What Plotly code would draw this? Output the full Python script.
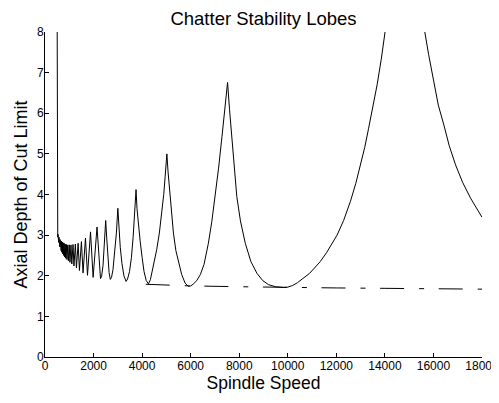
import plotly.graph_objects as go

# high-order lobes near the low-speed end: cusp (peak) and valley of each lobe
dense_peak_rpm = [500, 517, 536, 556, 577, 600, 625, 652, 682, 714, 750, 789,
                  833, 882, 938, 1000, 1071, 1154, 1250, 1364, 1500, 1667,
                  1875, 2143]
dense_peak_depth = [3.12, 3.06, 3.02, 2.98, 2.95, 2.92, 2.89, 2.87, 2.85, 2.83,
                    2.81, 2.80, 2.78, 2.77, 2.76, 2.76, 2.76, 2.77, 2.78, 2.80,
                    2.84, 2.93, 3.08, 3.20]
dense_valley_rpm = [507, 525, 544, 564, 586, 610, 636, 664, 695, 728, 766, 807,
                    853, 904, 963, 1028, 1104, 1192, 1295, 1418, 1567, 1750,
                    1982, 2286]
dense_valley_depth = [3.02, 2.95, 2.88, 2.82, 2.76, 2.71, 2.66, 2.62, 2.58, 2.54,
                      2.50, 2.46, 2.43, 2.40, 2.37, 2.33, 2.29, 2.24, 2.19, 2.13,
                      2.07, 2.01, 1.96, 1.93]

# low-order lobes, traced point by point
major_rpm = [2330, 2390, 2450, 2500, 2540, 2590, 2640, 2690,
             2740, 2800, 2870, 2940, 3000, 3040, 3100, 3170, 3250, 3340,
             3400, 3480, 3560, 3630, 3690, 3750, 3790, 3850, 3920, 4000, 4080,
             4170, 4260,
             4340, 4450, 4600, 4710, 4810, 4890, 4950, 5020, 5070, 5130, 5210,
             5290, 5390, 5500, 5630, 5770, 5900,
             6000, 6100, 6250, 6400, 6550, 6730, 6870, 7010, 7150, 7290, 7410,
             7520, 7600, 7700, 7800, 7900, 8050, 8250, 8480, 8730, 8970, 9210,
             9500, 9830,
             10000, 10200, 10400, 10650, 10900, 11100, 11340, 11600, 11800,
             12030, 12300, 12580, 12800, 12990, 13170, 13330, 13500, 13680,
             13850, 14020, 14100]
major_depth = [1.98, 2.25, 2.75, 3.36, 2.95, 2.45, 2.08, 1.91,
               1.96, 2.15, 2.55, 3.05, 3.66, 3.20, 2.70, 2.30, 2.00, 1.86,
               1.92, 2.10, 2.45, 2.95, 3.45, 4.12, 3.65, 3.20, 2.85, 2.45, 2.10,
               1.88, 1.80,
               1.90, 2.20, 2.64, 3.05, 3.55, 4.00, 4.45, 5.00, 4.55, 4.12, 3.55,
               3.05, 2.62, 2.31, 2.03, 1.82, 1.74,
               1.75, 1.79, 1.88, 2.03, 2.28, 2.80, 3.33, 3.95, 4.65, 5.43, 6.10,
               6.76, 6.10, 5.43, 4.65, 3.95, 3.35, 2.80, 2.35, 2.06, 1.88, 1.78,
               1.73, 1.71,
               1.72, 1.76, 1.83, 1.94, 2.06, 2.19, 2.35, 2.57, 2.76,
               3.00, 3.36, 3.83, 4.27, 4.73, 5.16, 5.63, 6.14, 6.70,
               7.33, 8.01, 8.40]

# right-hand branch of the first lobe, coming back down from above the axis
right_rpm = [15550, 15630, 15800, 16010, 16200, 16430, 16650, 16910, 17200,
             17530, 17800, 18000]
right_depth = [8.40, 8.05, 7.45, 6.78, 6.20, 5.71, 5.20, 4.73, 4.30, 3.91,
               3.62, 3.44]

# dash-dot limit line under the lobes
floor_rpm = [4150, 6000, 8000, 10000, 12000, 14000, 16000, 18000]
floor_depth = [1.79, 1.75, 1.73, 1.71, 1.70, 1.69, 1.68, 1.67]

# the left-most lobe runs straight up at the start speed
start_rpm = 500
start_top = 8.6

lobe_x = [start_rpm]
lobe_y = [start_top]
for i in range(len(dense_peak_rpm)):
    lobe_x += [dense_peak_rpm[i], dense_valley_rpm[i]]
    lobe_y += [dense_peak_depth[i], dense_valley_depth[i]]
lobe_x += major_rpm
lobe_y += major_depth

font = "Liberation Sans, Arial, Helvetica, sans-serif"
line = dict(color="black", width=1)

fig = go.Figure()
fig.add_trace(go.Scatter(x=lobe_x, y=lobe_y, mode="lines", line=line))
fig.add_trace(go.Scatter(x=right_rpm, y=right_depth, mode="lines", line=line))
fig.add_trace(go.Scatter(x=floor_rpm, y=floor_depth, mode="lines",
                         line=dict(color="black", width=1,
                                   dash="24px,15px,5px,14.6px")))

axis = dict(
    showgrid=False,
    zeroline=False,
    showline=True,
    linecolor="black",
    linewidth=1,
    ticks="inside",
    ticklen=4,
    tickcolor="black",
    automargin=False,
    ticklabeloverflow="allow",
    ticklabelstandoff=-2,
    tickfont=dict(family=font, size=12, color="black"),
)

# the page body adds an 8px margin all round, so keep the figure inside the window
fig.update_layout(
    width=491,
    height=387,
    margin=dict(l=37, r=17, t=24, b=38),
    paper_bgcolor="white",
    plot_bgcolor="white",
    showlegend=False,
    title=dict(text="Chatter Stability Lobes", x=0.5, xref="paper",
               y=1 - 10.5 / 387, yref="container", yanchor="middle",
               font=dict(family=font, size=18.5, color="black")),
    xaxis=dict(axis, range=[0, 18000], tickmode="linear", tick0=0, dtick=2000,
               tickformat="d",
               title=dict(text="Spindle Speed", standoff=4,
                          font=dict(family=font, size=17.5, color="black"))),
    yaxis=dict(axis, range=[0, 8], tickmode="linear", tick0=0, dtick=1,
               title=dict(text="Axial Depth of Cut Limit", standoff=4,
                          font=dict(family=font, size=18, color="black"))),
)

fig.write_html("out.html")
